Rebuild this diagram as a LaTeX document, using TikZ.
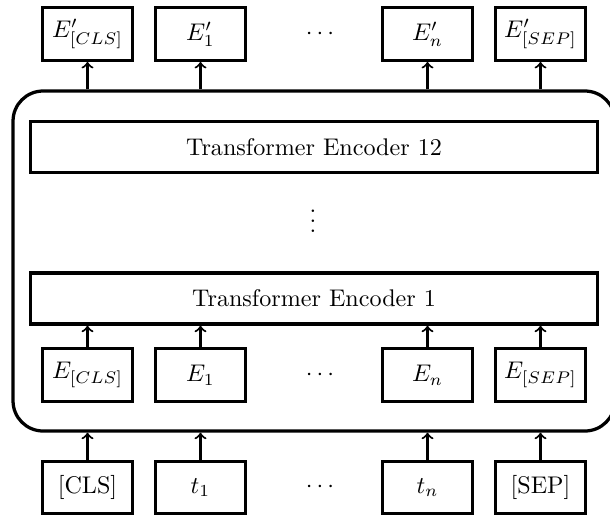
\documentclass[tikz,border=0pt]{standalone}
\begin{document}
\begin{tikzpicture}[x=0.415pt,y=-0.415pt,
  tok/.style={draw,line width=1.35pt,minimum width=37.6pt,minimum height=21.8pt,inner sep=0pt},
  enc/.style={draw,line width=1.35pt,minimum width=235.2pt,minimum height=21.2pt,inner sep=0pt},
  up/.style={->,line width=0.85pt}]
\useasboundingbox (0,0) rectangle (610,519);

% BERT body: rounded frame around the encoder stack
\node[draw,line width=1.35pt,rounded corners=12.5pt,minimum width=249.8pt,minimum height=141.1pt,inner sep=0pt] (bert) at (314,261) {};

% output embeddings
\node[tok] (o1) at (87.5,34) {$E'_{[CLS]}$};
\node[tok] (o2) at (200.5,34) {$E'_1$};
\node (od) at (320,34) {$\cdots$};
\node[tok] (o3) at (427.5,34) {$E'_n$};
\node[tok] (o4) at (540.5,34) {$E'_{[SEP]}$};

% encoder layers
\node[enc] (enc12) at (314,147) {Transformer Encoder 12};
\node (vd) at (313,214) {$\vdots$};
\node[enc] (enc1) at (314,298.5) {Transformer Encoder 1};

% input embeddings
\node[tok] (e1) at (87.5,375) {$E_{[CLS]}$};
\node[tok] (e2) at (200.5,375) {$E_1$};
\node (ed) at (320,375) {$\cdots$};
\node[tok] (e3) at (427.5,375) {$E_n$};
\node[tok] (e4) at (540.5,375) {$E_{[SEP]}$};

% input tokens
\node[tok] (i1) at (87.5,487.5) {[CLS]};
\node[tok] (i2) at (200.5,487.5) {$t_1$};
\node (id) at (320,487.5) {$\cdots$};
\node[tok] (i3) at (427.5,487.5) {$t_n$};
\node[tok] (i4) at (540.5,487.5) {[SEP]};

% connectors
\foreach \k in {1,2,3,4} {
  \draw[up] (bert.north -| o\k.south) -- (o\k.south);
  \draw[up] (e\k.north) -- (e\k.north |- enc1.south);
  \draw[up] (i\k.north) -- (i\k.north |- bert.south);
}
\end{tikzpicture}
\end{document}
